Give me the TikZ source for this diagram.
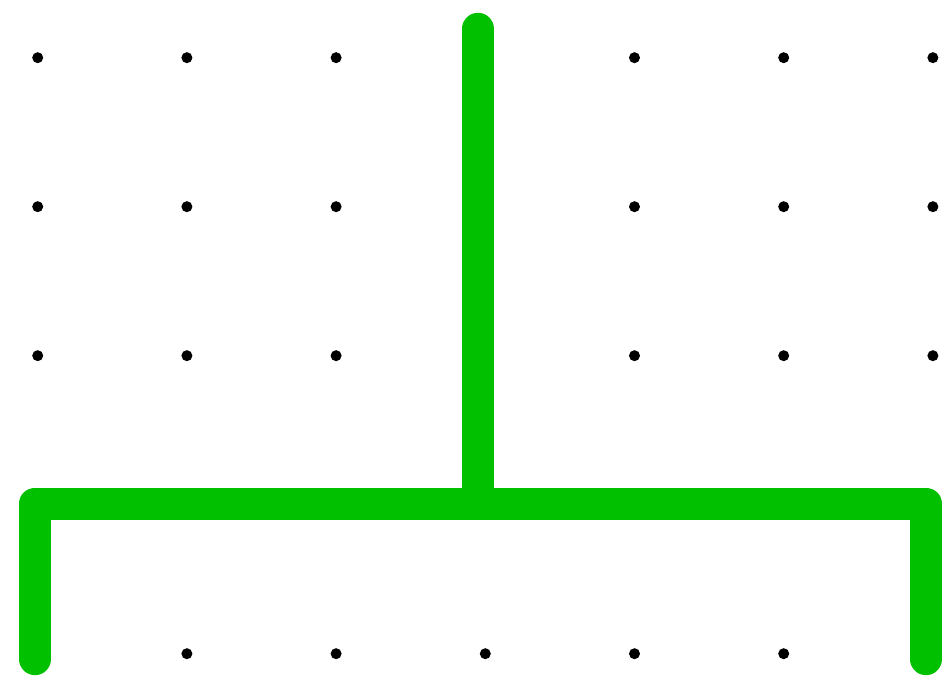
\documentclass[tikz,border=0pt]{standalone}
\usepackage{xcolor}
\usepackage{tikz}
\usetikzlibrary{calc}
\definecolor{WireGreen}{HTML}{00C000}
\definecolor{DotBlack}{HTML}{000000}
\tikzset{
  % Grid dot
  gdot/.style={fill=DotBlack,draw=none},
  % Thick green wire
  wire/.style={draw=WireGreen,line width=9.2pt,line cap=round,line join=round}
}
\begin{document}
\begin{tikzpicture}
  \useasboundingbox (0,0) rectangle (9.43,6.76);
  % dot grid
  \foreach \i in {0,...,6}{
    \foreach \j in {0,...,4}{
      \fill[gdot] ({0.377+1.492*\i},{6.183-1.49*\j}) circle (0.055);
    }
  }
  % wire corners
  \coordinate (top) at (4.78,6.47);
  \coordinate (mid) at (4.78,1.723);
  \coordinate (lt) at (0.35,1.723);
  \coordinate (rt) at (9.26,1.723);
  \coordinate (lb) at (0.35,0.17);
  \coordinate (rb) at (9.26,0.17);

  \draw[wire] (lb)--(lt)--(rt)--(rb);
  \draw[wire] (top)--(mid);
\end{tikzpicture}
\end{document}
